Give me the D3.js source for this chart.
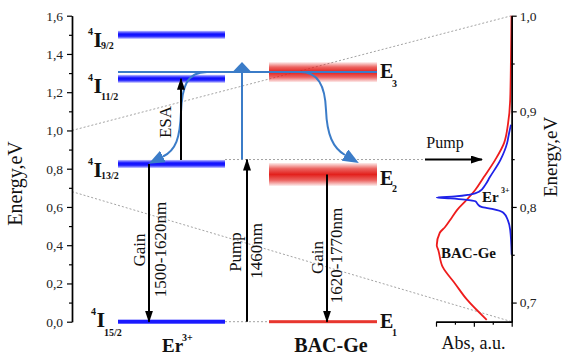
<!DOCTYPE html>
<html>
<head>
<meta charset="utf-8">
<script src="https://cdn.jsdelivr.net/npm/d3@7"></script>
<style>
  body { margin: 0; background: #fff; }
  svg { display: block; }
  svg text { font-family: "Liberation Serif", "DejaVu Serif", "Times New Roman", serif; }
</style>
</head>
<body>
<div id="chart"></div>
<script>
// energy levels, eV
const erLevelNames = ['9/2', '11/2', '13/2', '15/2'];
const erLevelEnergies = [1.50, 1.27, 0.825, 0.0];
const bacLevelNames = ['3', '2', '1'];
const bacLevelEnergies = [1.305, 0.77, 0.0];
const pumpEnergy = 0.848;

// axis ticks
const leftMajorTicks = [0, 0.2, 0.4, 0.6, 0.8, 1.0, 1.2, 1.4, 1.6];
const leftMinorTicks = [0.1, 0.3, 0.5, 0.7, 0.9, 1.1, 1.3, 1.5];
const rightMajorTicks = [0.7, 0.8, 0.9, 1.0];
const rightMinorTicks = [0.75, 0.85, 0.95];
const absMajorTicks = [0, 0.5, 1];
const absMinorTicks = [0.25, 0.75];

// absorption spectra: energy (eV) and abs (a.u.)
const bacAbsEnergy = [1.0, 0.954, 0.912, 0.886, 0.867, 0.849, 0.831, 0.818, 0.807, 0.797, 0.789, 0.779, 0.773, 0.760, 0.755, 0.737, 0.720, 0.703, 0.682];
const bacAbsValue  = [0.003, 0.01, 0.02, 0.05, 0.10, 0.22, 0.37, 0.48, 0.60, 0.72, 0.79, 0.88, 0.95, 0.99, 0.97, 0.91, 0.75, 0.59, 0.33];
const erAbsEnergy = [0.886, 0.875, 0.867, 0.849, 0.831, 0.823, 0.816, 0.813, 0.811, 0.810, 0.809, 0.8077, 0.806, 0.803, 0.800, 0.798, 0.794, 0.786, 0.776, 0.750];
const erAbsValue  = [0.01, 0.04, 0.06, 0.15, 0.29, 0.35, 0.43, 0.55, 0.75, 0.99, 0.81, 0.62, 0.48, 0.45, 0.40, 0.26, 0.11, 0.05, 0.02, 0.0];

// transitions [from, to] in eV
const erGain = [erLevelEnergies[2], 0];
const esa = [0.845, erLevelEnergies[1]];
const pumpUp = [0, pumpEnergy];
const bacGain = [bacLevelEnergies[1], 0];
const pumpBlue = [pumpEnergy, bacLevelEnergies[0]];

const W = 562, H = 356;
const STEEL = '#3b7cc8';
const SERIF = '"Liberation Serif", "DejaVu Serif", "Times New Roman", serif';
const fmt = d => d3.format('.1f')(d).replace('.', ',');

const svg = d3.select('#chart').append('svg').attr('width', W).attr('height', H);
const defs = svg.append('defs');

const yLeft = d3.scaleLinear().domain([0, 1.6]).range([321.7, 15.7]);
const yRight = d3.scaleLinear().domain([0.68, 1.0]).range([321.7, 15.7]);
const xAbs = d3.scaleLinear().domain([0, 1]).range([511.7, 436]);
const leftX = 72, rightX = 511.7, baseY = 321.7;
const erX = [118, 225], bacX = [269, 377];

// gradients for the broadened levels
function gradient(id, rgb, stops) {
    const g = defs.append('linearGradient').attr('id', id)
        .attr('x1', 0).attr('y1', 0).attr('x2', 0).attr('y2', 1);
    stops.forEach(([o, a]) => g.append('stop').attr('offset', o)
        .attr('stop-color', rgb).attr('stop-opacity', a));
}
gradient('gBlue', '#0a0aff', [[0, 0.25], [0.3, 0.85], [0.5, 1], [0.7, 0.85], [1, 0.25]]);
gradient('gRed', '#e3201c', [[0, 0.08], [0.25, 0.7], [0.5, 1], [0.75, 0.7], [1, 0.08]]);

// arrow heads
function marker(id, color, len, half, refX) {
    defs.append('marker').attr('id', id)
        .attr('markerUnits', 'userSpaceOnUse')
        .attr('viewBox', `0 ${-half} ${len} ${half * 2}`)
        .attr('markerWidth', len).attr('markerHeight', half * 2)
        .attr('refX', refX).attr('refY', 0).attr('orient', 'auto')
        .append('path').attr('d', `M0,${-half}L${len},0L0,${half}Z`).attr('fill', color);
}
marker('aBlack', '#000', 12, 4, 11);
marker('aCurve', STEEL, 16, 6.5, 0);
marker('aPump', STEEL, 10, 9.5, 0);

// dotted guide lines
function dotted(x1, y1, x2, y2) {
    svg.append('line').attr('x1', x1).attr('y1', y1).attr('x2', x2).attr('y2', y2)
        .attr('stroke', '#999').attr('stroke-width', 0.9).attr('stroke-dasharray', '2,2');
}
dotted(leftX, yLeft(1.0), rightX, yRight(1.0));
dotted(leftX, yLeft(0.68), rightX, yRight(0.68));
dotted(erX[1], yLeft(pumpEnergy), 425, yLeft(pumpEnergy));
dotted(erX[1], yLeft(0), bacX[0], yLeft(0));

// Er levels
const erThick = [8, 8, 8, 4];
svg.selectAll('rect.er').data(erLevelEnergies).enter().append('rect')
    .attr('class', 'er')
    .attr('x', erX[0]).attr('width', erX[1] - erX[0])
    .attr('y', (d, i) => yLeft(d) - erThick[i] / 2)
    .attr('height', (d, i) => erThick[i])
    .attr('fill', (d, i) => i === 3 ? '#1a1aff' : 'url(#gBlue)');

// BAC-Ge levels
const bacThick = [20, 23, 3];
svg.selectAll('rect.bac').data(bacLevelEnergies).enter().append('rect')
    .attr('class', 'bac')
    .attr('x', bacX[0]).attr('width', bacX[1] - bacX[0])
    .attr('y', (d, i) => yLeft(d) - bacThick[i] / 2)
    .attr('height', (d, i) => bacThick[i])
    .attr('fill', (d, i) => i === 2 ? '#e8362e' : 'url(#gRed)');

// thin blue line at E3
svg.append('line').attr('x1', erX[0]).attr('x2', bacX[1])
    .attr('y1', yLeft(bacLevelEnergies[0])).attr('y2', yLeft(bacLevelEnergies[0]))
    .attr('stroke', STEEL).attr('stroke-width', 2);

// curved relaxation arrows
const y3 = yLeft(bacLevelEnergies[0]);
svg.append('path')
    .attr('d', `M207,${y3} C186,${y3} 182,88 181,112 C180,138 176,150 163,156.5`)
    .attr('fill', 'none').attr('stroke', STEEL).attr('stroke-width', 2)
    .attr('marker-end', 'url(#aCurve)');
svg.append('path')
    .attr('d', `M300,${y3} C318,${y3} 325,85 326,110 C327,135 333,148 345,155`)
    .attr('fill', 'none').attr('stroke', STEEL).attr('stroke-width', 2)
    .attr('marker-end', 'url(#aCurve)');

// blue pump arrow
svg.append('line').attr('x1', 242).attr('x2', 242)
    .attr('y1', yLeft(pumpBlue[0])).attr('y2', yLeft(pumpBlue[1]))
    .attr('stroke', STEEL).attr('stroke-width', 2)
    .attr('marker-end', 'url(#aPump)');

// black transitions
function vArrow(x, [from, to]) {
    svg.append('line').attr('x1', x).attr('x2', x)
        .attr('y1', yLeft(from)).attr('y2', yLeft(to))
        .attr('stroke', '#000').attr('stroke-width', 2)
        .attr('marker-end', 'url(#aBlack)');
}
vArrow(149, erGain);
vArrow(181, esa);
vArrow(247, pumpUp);
vArrow(327, bacGain);

// horizontal pump arrow to the spectra
svg.append('line').attr('x1', 425).attr('x2', 482)
    .attr('y1', yLeft(pumpEnergy)).attr('y2', yLeft(pumpEnergy))
    .attr('stroke', '#000').attr('stroke-width', 2)
    .attr('marker-end', 'url(#aBlack)');

// spectra
const absLine = d3.line()
    .x(d => xAbs(d[1])).y(d => yRight(d[0]))
    .curve(d3.curveMonotoneY);
svg.append('path').datum(d3.zip(bacAbsEnergy, bacAbsValue))
    .attr('d', absLine).attr('fill', 'none').attr('stroke', '#ee1c1c').attr('stroke-width', 1.8);
svg.append('path').datum(d3.zip(erAbsEnergy, erAbsValue))
    .attr('d', absLine).attr('fill', 'none').attr('stroke', '#1f22e8').attr('stroke-width', 1.8);

// axes
function styleAxis(g) {
    g.attr('font-family', SERIF).attr('font-size', 13.5);
    g.select('.domain').attr('stroke-width', 1.4);
    g.selectAll('.tick line').attr('stroke-width', 1.2);
    g.selectAll('.tick text').attr('fill', '#222').attr('font-family', SERIF);
}
svg.append('g').attr('transform', `translate(${leftX},0)`)
    .call(d3.axisLeft(yLeft).tickValues(leftMinorTicks).tickSize(3).tickSizeOuter(0).tickFormat(''))
    .call(styleAxis);
svg.append('g').attr('transform', `translate(${leftX},0)`)
    .call(d3.axisLeft(yLeft).tickValues(leftMajorTicks).tickSize(5).tickSizeOuter(0).tickPadding(4).tickFormat(fmt))
    .call(styleAxis);
svg.append('g').attr('transform', `translate(${rightX},0)`)
    .call(d3.axisRight(yRight).tickValues(rightMinorTicks).tickSize(3).tickSizeOuter(0).tickFormat(''))
    .call(styleAxis);
svg.append('g').attr('transform', `translate(${rightX},0)`)
    .call(d3.axisRight(yRight).tickValues(rightMajorTicks).tickSize(5).tickSizeOuter(0).tickPadding(3).tickFormat(fmt))
    .call(styleAxis);
svg.append('g').attr('transform', `translate(0,${baseY})`)
    .call(d3.axisBottom(xAbs).tickValues(absMinorTicks).tickSize(3).tickSizeOuter(0).tickFormat(''))
    .call(styleAxis);
svg.append('g').attr('transform', `translate(0,${baseY})`)
    .call(d3.axisBottom(xAbs).tickValues(absMajorTicks).tickSize(5).tickSizeOuter(0).tickFormat(''))
    .call(styleAxis);

// text helpers
function txt(x, y, s, size, bold, anchor) {
    return svg.append('text').attr('x', x).attr('y', y)
        .attr('font-family', SERIF)
        .attr('font-size', size).attr('font-weight', bold ? 'bold' : null)
        .attr('text-anchor', anchor || 'start').attr('fill', '#111').text(s);
}
function rotTxt(x, y, s, size) {
    return svg.append('text').attr('transform', `translate(${x},${y}) rotate(-90)`)
        .attr('font-family', SERIF)
        .attr('text-anchor', 'middle').attr('font-size', size).attr('fill', '#111').text(s);
}

rotTxt(22, 183.5, 'Energy,eV', 20);
rotTxt(557, 157, 'Energy,eV', 19);
txt(473.5, 349, 'Abs, a.u.', 18, false, 'middle');

// Er level labels: [I baseline offset, subscript offset, dx]
const erLabelPos = [[12, 14, 0], [14, 21, 0], [13, 15, 0], [5, 14, 3]];
erLevelNames.forEach((n, i) => {
    const [dI, dS, dx] = erLabelPos[i];
    const yI = yLeft(erLevelEnergies[i]) + dI;
    txt(88 + dx, yI - 11.5, '4', 10, true);
    txt(93.5 + dx, yI, 'I', 22, true);
    txt(101 + dx, yLeft(erLevelEnergies[i]) + dS, n, 10, true);
});

// BAC-Ge level labels
const bacLabelPos = [[6, 15], [11, 18], [6, 14]];
bacLevelNames.forEach((n, i) => {
    const y = yLeft(bacLevelEnergies[i]);
    txt(380, y + bacLabelPos[i][0], 'E', 20, true);
    txt(392, y + bacLabelPos[i][1], n, 10, true);
});

// transition labels
rotTxt(171, 122, 'ESA', 17);
rotTxt(145, 250, 'Gain', 17);
rotTxt(166, 249.5, '1500-1620nm', 17);
rotTxt(241, 252, 'Pump', 17);
rotTxt(262, 251, '1460nm', 17);
rotTxt(323, 257.5, 'Gain', 17);
rotTxt(342, 255.5, '1620-1770nm', 17);
txt(445, 148, 'Pump', 16, false, 'middle');

// material labels
txt(162, 352, 'Er', 19, true);
txt(182, 341, '3+', 10, true);
txt(331, 352, 'BAC-Ge', 20, true, 'middle');
txt(482, 202, 'Er', 15, true);
txt(501, 193, '3+', 8, true);
txt(468.5, 258, 'BAC-Ge', 15, true, 'middle');
</script>
</body>
</html>
